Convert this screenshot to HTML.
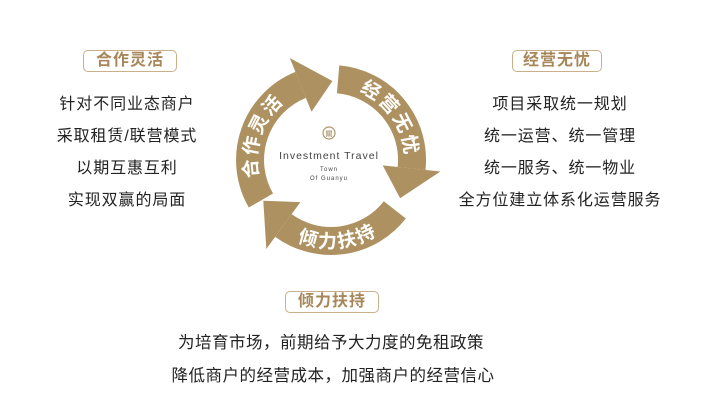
<!DOCTYPE html>
<html><head><meta charset="utf-8"><style>
html,body{margin:0;padding:0;background:#fff;}
body{width:707px;height:404px;position:relative;overflow:hidden;font-family:"Liberation Sans","Noto Sans CJK SC",sans-serif;}
.tag{position:absolute;height:20px;border:1px solid #c9b08a;border-radius:5px;color:#a7875a;font-weight:bold;font-size:16px;line-height:20px;text-align:center;letter-spacing:1px;}
.ln{position:absolute;font-size:16px;color:#222;text-align:center;letter-spacing:0.9px;white-space:nowrap;transform:translateX(-50%);}
.bl{position:absolute;font-size:16.5px;color:#222;letter-spacing:0.5px;white-space:nowrap;transform:translateX(-50%);}
</style></head><body>
<div class="tag" style="left:83px;top:50px;width:92px;">合作灵活</div>
<div class="ln" style="left:127px;top:90px;">针对不同业态商户</div>
<div class="ln" style="left:127px;top:122px;">采取租赁/联营模式</div>
<div class="ln" style="left:127px;top:154px;">以期互惠互利</div>
<div class="ln" style="left:127px;top:186px;">实现双赢的局面</div>

<div class="tag" style="left:512px;top:50px;width:88px;">经营无忧</div>
<div class="ln" style="left:560px;top:90px;">项目采取统一规划</div>
<div class="ln" style="left:560px;top:122px;">统一运营、统一管理</div>
<div class="ln" style="left:560px;top:154px;">统一服务、统一物业</div>
<div class="ln" style="left:560px;top:186px;">全方位建立体系化运营服务</div>

<div class="tag" style="left:285px;top:291px;width:92px;">倾力扶持</div>
<div class="bl" style="left:331px;top:329px;">为培育市场，前期给予大力度的免租政策</div>
<div class="bl" style="left:333px;top:362px;">降低商户的经营成本，加强商户的经营信心</div>

<svg id="s" width="707" height="404" style="position:absolute;left:0;top:0" xmlns="http://www.w3.org/2000/svg"></svg>
<script>
var cx=331,cy=160,r=81,w=28,col="#ae9161";
function P(a,rr){var t=a*Math.PI/180;return [(cx+rr*Math.cos(t)).toFixed(1),(cy+rr*Math.sin(t)).toFixed(1)];}
function arc(a1,a2,rr,rev){var p1=P(a1,rr),p2=P(a2,rr);var large=Math.abs(a2-a1)>180?1:0;return "M"+p1+" A"+rr+" "+rr+" 0 "+large+" "+(rev?0:1)+" "+p2;}
var s="";
var arcs=[[150,248],[275,366],[38,126]];
arcs.forEach(function(a){
 s+='<path d="'+arc(a[0],a[1],r)+'" fill="none" stroke="'+col+'" stroke-width="'+w+'"/>';
 var b1=P(a[1],r-29),b2=P(a[1],r+29),tip=P(a[1]+23,r-2);
 s+='<polygon points="'+b1+' '+b2+' '+tip+'" fill="'+col+'"/>';
});
s+='<defs><path id="t1" d="'+arc(140,258,r-7)+'"/><path id="t2" d="'+arc(270,380,r-7)+'"/><path id="t3" d="'+arc(140,30,r+7,true)+'"/></defs>';
var ts='fill="#fff" font-weight="bold" font-size="19" font-family="Liberation Sans,Noto Sans CJK SC,sans-serif" letter-spacing="2"';
s+='<text '+ts+'><textPath href="#t1" startOffset="50%" text-anchor="middle">合作灵活</textPath></text>';
s+='<text '+ts+'><textPath href="#t2" startOffset="50%" text-anchor="middle">经营无忧</textPath></text>';
s+='<text '+ts+'><textPath href="#t3" startOffset="50%" text-anchor="middle">倾力扶持</textPath></text>';
s+='<circle cx="329" cy="133" r="6" fill="none" stroke="#b09567" stroke-width="1.2"/><text x="329" y="136" font-size="7" fill="#9a7d50" text-anchor="middle" font-family="Noto Sans CJK SC,sans-serif">關</text>';
s+='<text x="329" y="159" font-size="10.5" fill="#444" text-anchor="middle" letter-spacing="1" font-family="Liberation Sans,sans-serif">Investment Travel</text>';
s+='<text x="329" y="171" font-size="6" fill="#444" text-anchor="middle" letter-spacing="1" font-family="Liberation Sans,sans-serif">Town</text>';
s+='<text x="329" y="180" font-size="6" fill="#444" text-anchor="middle" letter-spacing="1" font-family="Liberation Sans,sans-serif">Of Guanyu</text>';
document.getElementById("s").innerHTML=s;
</script>
</body></html>
